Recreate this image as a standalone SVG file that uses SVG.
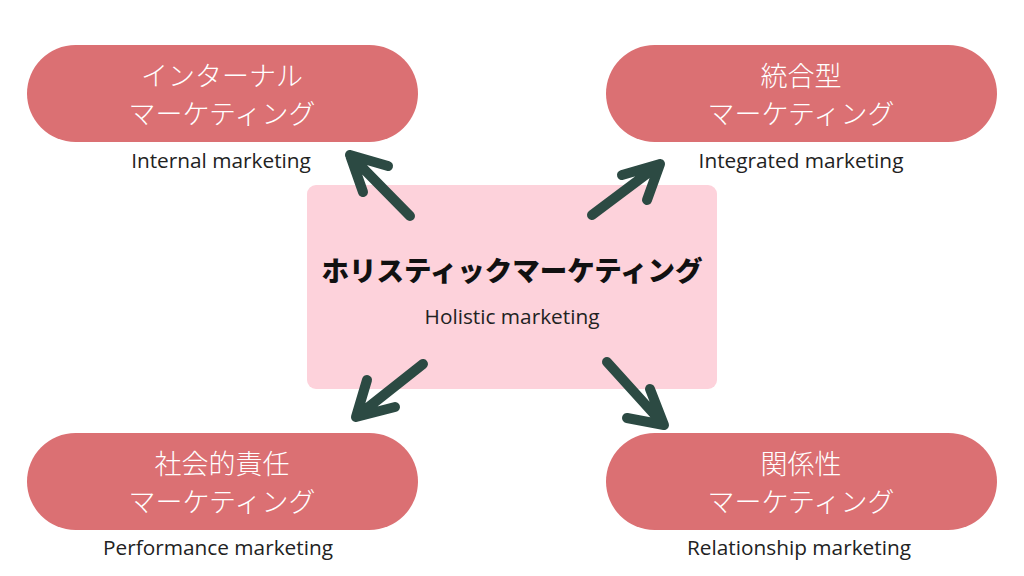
<svg xmlns="http://www.w3.org/2000/svg" width="1024" height="576" viewBox="0 0 1024 576">
<style>
.pill{fill:#db7073}
.jp{font-family:"Noto Sans CJK JP","Noto Sans",sans-serif;font-size:27px;font-weight:300;fill:#ffffff;text-anchor:middle}
.en{font-family:"Open Sans","Liberation Sans",sans-serif;font-size:20.8px;fill:#222222;text-anchor:middle}
.title{font-family:"Noto Sans CJK JP","Noto Sans",sans-serif;font-size:27.5px;font-weight:900;fill:#111111;text-anchor:middle}
.arr{fill:none;stroke:#2c4a43;stroke-width:10;stroke-linecap:round;stroke-linejoin:round}
</style>
<rect width="1024" height="576" fill="#ffffff"/>
<g id="center">
<rect x="307" y="185" width="410" height="204" rx="9" fill="#fdd2db"/>
<text class="title" x="512" y="281">ホリスティックマーケティング</text>
<text class="en" x="512" y="324">Holistic marketing</text>
</g>
<g id="internal">
<rect class="pill" x="27" y="45" width="391" height="97" rx="48.5"/>
<text class="jp" x="222" y="86">インターナル</text>
<text class="jp" x="222" y="124">マーケティング</text>
<text class="en" x="221" y="168">Internal marketing</text>
</g>
<g id="integrated">
<rect class="pill" x="606" y="45" width="391" height="97" rx="48.5"/>
<text class="jp" x="801" y="86">統合型</text>
<text class="jp" x="801" y="124">マーケティング</text>
<text class="en" x="801" y="168">Integrated marketing</text>
</g>
<g id="performance">
<rect class="pill" x="27" y="433" width="391" height="97" rx="48.5"/>
<text class="jp" x="222" y="474">社会的責任</text>
<text class="jp" x="222" y="512">マーケティング</text>
<text class="en" x="218" y="555">Performance marketing</text>
</g>
<g id="relationship">
<rect class="pill" x="606" y="433" width="391" height="97" rx="48.5"/>
<text class="jp" x="801" y="474">関係性</text>
<text class="jp" x="801" y="512">マーケティング</text>
<text class="en" x="799" y="555">Relationship marketing</text>
</g>
<g id="connectors">
<path class="arr" d="M410 216 L350 155 M388 166 L350 155 L363 192"/>
<path class="arr" d="M592 215 L660 164 M622 175 L660 164 L647 200"/>
<path class="arr" d="M423 364 L356 417 M367 380 L356 417 L395 407"/>
<path class="arr" d="M607 362 L664 425 M650 389 L664 425 L627 418"/>
</g>
</svg>
